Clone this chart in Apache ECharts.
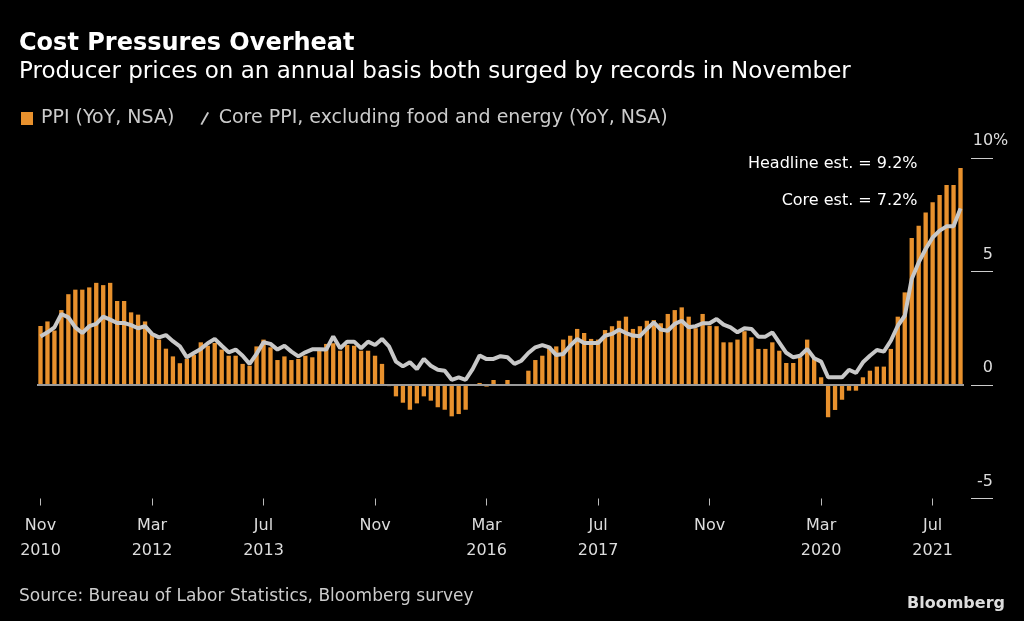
<!DOCTYPE html>
<html lang="en">
<head>
  <meta charset="UTF-8">
  <title>Cost Pressures Overheat</title>
  <script src="https://cdn.jsdelivr.net/npm/echarts@6/dist/echarts.min.js"></script>
  <style>
    html, body { margin: 0; padding: 0; background: #000; }
    #chart { width: 1024px; height: 621px; }
  </style>
</head>
<body>
  <div id="chart"></div>
  <script>
    // months Nov 2010 .. Nov 2021
    const monthNames = ['Jan','Feb','Mar','Apr','May','Jun','Jul','Aug','Sep','Oct','Nov','Dec'];
    const months = [];
    for (let i = 0; i < 133; i++) {
      const m = (10 + i) % 12;
      const y = 2010 + Math.floor((10 + i) / 12);
      months.push(monthNames[m] + ' ' + y);
    }

    // labels shown every 16 months
    const tickLabels = ['Nov\n2010', 'Mar\n2012', 'Jul\n2013', 'Nov', 'Mar\n2016',
                        'Jul\n2017', 'Nov', 'Mar\n2020', 'Jul\n2021'];

    // PPI final demand, YoY %, NSA (bars)
    const ppi = [
      2.6, 2.8, 2.4, 3.3, 4.0, 4.2, 4.2, 4.3, 4.5, 4.4, 4.5, 3.7, 3.7, 3.2, 3.1, 2.8,
      2.25, 2.0, 1.6, 1.26, 0.96, 1.15, 1.32, 1.88, 1.73, 1.85, 1.56, 1.29, 1.29, 0.93, 0.85, 1.7,
      2.0, 1.66, 1.1, 1.26, 1.1, 1.15, 1.29, 1.22, 1.6, 1.81, 1.84, 1.51, 1.76, 1.73, 1.51, 1.51,
      1.29, 0.93, -0.05, -0.5, -0.78, -1.09, -0.81, -0.5, -0.69, -0.98, -1.09, -1.38, -1.28, -1.09, -0.03, 0.09,
      -0.07, 0.22, 0.02, 0.22, -0.02, 0.02, 0.63, 1.1, 1.29, 1.7, 1.7, 2.0, 2.17, 2.47, 2.29, 2.03,
      2.0, 2.42, 2.59, 2.83, 3.01, 2.47, 2.59, 2.83, 2.86, 2.72, 3.13, 3.3, 3.42, 3.01, 2.5, 3.13,
      2.61, 2.59, 1.88, 1.88, 2.0, 2.37, 2.1, 1.59, 1.59, 1.88, 1.51, 0.97, 0.97, 1.22, 2.0, 1.15,
      0.34, -1.42, -1.1, -0.65, -0.25, -0.25, 0.34, 0.63, 0.81, 0.81, 1.59, 3.01, 4.08, 6.48, 7.02, 7.6,
      8.05, 8.37, 8.81, 8.81, 9.56
    ];

    // Core PPI excluding food and energy, YoY %, NSA (line)
    const core = [
      2.14, 2.32, 2.54, 3.13, 2.98, 2.54, 2.29, 2.59, 2.69, 3.01, 2.88, 2.73, 2.73, 2.64, 2.5, 2.59,
      2.25, 2.1, 2.2, 1.93, 1.7, 1.22, 1.41, 1.59, 1.84, 2.03, 1.73, 1.44, 1.56, 1.29, 0.93, 1.37,
      1.88, 1.81, 1.56, 1.73, 1.47, 1.26, 1.44, 1.57, 1.58, 1.56, 2.14, 1.62, 1.91, 1.91, 1.62, 1.91,
      1.76, 2.03, 1.7, 1.03, 0.82, 1.0, 0.7, 1.15, 0.85, 0.67, 0.63, 0.23, 0.34, 0.23, 0.7, 1.3,
      1.14, 1.15, 1.27, 1.22, 0.93, 1.07, 1.41, 1.66, 1.76, 1.66, 1.32, 1.37, 1.73, 2.03, 1.85, 1.85,
      1.85, 2.17, 2.25, 2.44, 2.29, 2.18, 2.15, 2.47, 2.76, 2.44, 2.39, 2.69, 2.83, 2.54, 2.59, 2.72,
      2.72, 2.91, 2.66, 2.54, 2.32, 2.5, 2.47, 2.13, 2.13, 2.32, 1.87, 1.42, 1.22, 1.29, 1.59, 1.18,
      1.03, 0.34, 0.34, 0.34, 0.67, 0.53, 1.0, 1.29, 1.54, 1.47, 1.95, 2.61, 3.05, 4.67, 5.4, 5.99,
      6.5, 6.8, 6.99, 6.99, 7.78
    ];

    const headlineEst = 9.2;
    const coreEst = 7.2;

    const FONT = 'DejaVu Sans';
    const lastMonth = months[months.length - 1];

    const chart = echarts.init(document.getElementById('chart'));
    const option = {
      backgroundColor: '#000',
      animation: false,
      textStyle: { fontFamily: FONT },
      title: [
        {
          text: 'Cost Pressures Overheat',
          left: 14, top: 27,
          textStyle: { color: '#fff', fontSize: 24, fontWeight: 'bold', fontFamily: FONT }
        },
        {
          text: 'Producer prices on an annual basis both surged by records in November',
          left: 14, top: 56,
          textStyle: { color: '#fff', fontSize: 23, fontWeight: 'normal', fontFamily: FONT }
        },
        {
          text: 'Source: Bureau of Labor Statistics, Bloomberg survey',
          left: 14, top: 583,
          textStyle: { color: '#ccc', fontSize: 17, fontWeight: 'normal', fontFamily: FONT }
        },
        {
          text: 'Bloomberg',
          right: 14, top: 591,
          textStyle: { color: '#ddd', fontSize: 16, fontWeight: 'bold', fontFamily: FONT }
        }
      ],
      legend: {
        left: 16, top: 104,
        itemWidth: 12, itemHeight: 13, itemGap: 26,
        textStyle: { color: '#ccc', fontSize: 19, fontFamily: FONT, padding: [0, 0, 0, 3] },
        data: [
          { name: 'PPI (YoY, NSA)', icon: 'rect' },
          { name: 'Core PPI, excluding food and energy (YoY, NSA)',
            icon: 'path://M0,14 L8,0 L10,1 L2,15 Z' }
        ]
      },
      grid: { left: 37, right: 60, top: 158, bottom: 122.5 },
      xAxis: {
        type: 'category',
        data: months,
        boundaryGap: true,
        axisLine: { show: false, onZero: false },
        axisTick: {
          show: true, interval: 15, alignWithLabel: true, length: 7,
          lineStyle: { color: '#bbb', width: 1 }
        },
        axisLabel: {
          interval: 15, color: '#ddd', fontSize: 16, lineHeight: 25, margin: 15,
          fontFamily: FONT,
          formatter: (v, i) => tickLabels[Math.round(i / 16)] || ''
        },
        splitLine: { show: false }
      },
      yAxis: {
        type: 'value',
        position: 'right',
        min: -5, max: 10, interval: 5,
        offset: 7,
        axisLine: { show: false },
        axisTick: { show: true, length: 22, inside: false, lineStyle: { color: '#ccc', width: 1 } },
        splitLine: { show: false },
        axisLabel: {
          color: '#ddd', fontSize: 16, fontFamily: FONT,
          margin: 2, align: 'left', verticalAlign: 'bottom', padding: [0, 0, 9, 0],
          formatter: v => '{n|' + v + '}' + (v === 10 ? '%' : ''),
          rich: {
            n: { color: '#ddd', fontSize: 16, fontFamily: FONT, width: 20, align: 'right' }
          }
        }
      },
      series: [
        {
          name: 'PPI (YoY, NSA)',
          type: 'bar',
          data: ppi,
          barWidth: '62%',
          itemStyle: { color: '#e8912d' },
          markLine: {
            silent: true, symbol: 'none',
            label: { show: false },
            lineStyle: { color: '#9a9a9a', width: 2, type: 'solid' },
            data: [{ yAxis: 0 }]
          },
          markPoint: {
            symbol: 'circle', symbolSize: 0,
            label: {
              show: true, position: 'left', color: '#fff', fontSize: 16, fontFamily: FONT
            },
            data: [
              { coord: [lastMonth, headlineEst], value: headlineEst,
                label: { formatter: 'Headline est. = ' + headlineEst + '%', offset: [-38, -12] } },
              { coord: [lastMonth, coreEst], value: coreEst,
                label: { formatter: 'Core est. = ' + coreEst + '%', offset: [-38, -21] } }
            ]
          }
        },
        {
          name: 'Core PPI, excluding food and energy (YoY, NSA)',
          type: 'line',
          data: core,
          showSymbol: false,
          symbol: 'none',
          lineStyle: { color: '#c8c8c8', width: 4 },
          itemStyle: { color: '#c8c8c8' },
          z: 3
        }
      ]
    };
    chart.setOption(option);
  </script>
</body>
</html>
